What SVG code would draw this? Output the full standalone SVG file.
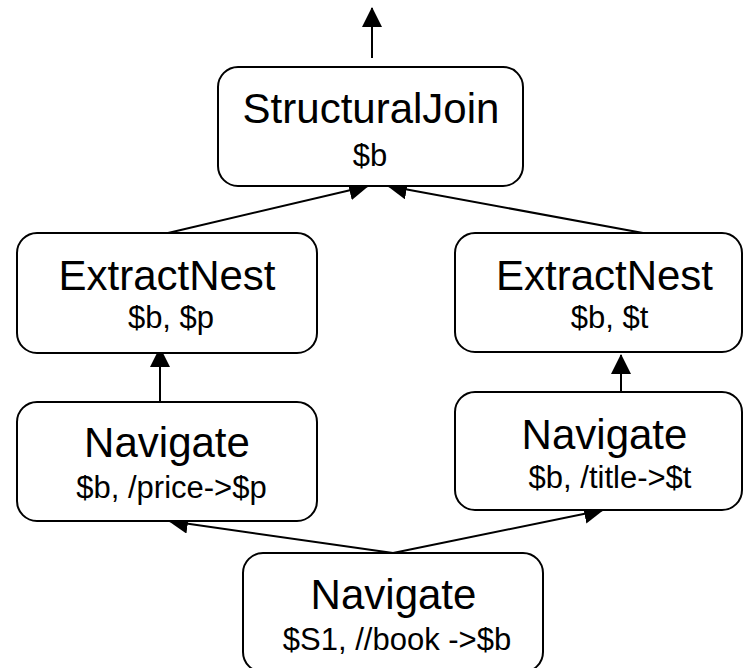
<svg xmlns="http://www.w3.org/2000/svg" width="744" height="668" viewBox="0 0 744 668">
  <style>
    .box { fill: #ffffff; stroke: #000000; stroke-width: 2; }
    .title { font-family: "Liberation Sans", Arial, sans-serif; font-size: 42px; fill: #000000; text-anchor: middle; }
    .sub { font-family: "Liberation Sans", Arial, sans-serif; font-size: 31px; fill: #000000; text-anchor: middle; }
    .edge { fill: none; stroke: #000000; stroke-width: 2; marker-end: url(#arrow); }
  </style>
  <defs>
    <marker id="arrow" viewBox="0 0 20 20" refX="19" refY="10" markerWidth="20" markerHeight="20" markerUnits="userSpaceOnUse" orient="auto">
      <path d="M0,0 L20,10 L0,20 Z" fill="#000000"/>
    </marker>
  </defs>

  <rect width="744" height="668" fill="#ffffff"/>

  <!-- connectors: data flows upward from the bottom Navigate -->
  <g id="connectors">
    <line class="edge" x1="372" y1="58" x2="372" y2="8"/>
    <line class="edge" x1="168" y1="233" x2="368" y2="186"/>
    <line class="edge" x1="643" y1="233" x2="388" y2="186"/>
    <line class="edge" x1="160" y1="402" x2="160" y2="348"/>
    <line class="edge" x1="621" y1="392" x2="621" y2="355"/>
    <line class="edge" x1="393" y1="553" x2="169" y2="521"/>
    <line class="edge" x1="393" y1="553" x2="603" y2="510"/>
  </g>

  <g id="structural-join">
    <rect class="box" x="218" y="67" width="305" height="119" rx="20" ry="20"/>
    <text class="title" x="371" y="123">StructuralJoin</text>
    <text class="sub" x="370" y="166">$b</text>
  </g>

  <g id="extract-nest-price">
    <rect class="box" x="17" y="233" width="300" height="120" rx="20" ry="20"/>
    <text class="title" x="167" y="290">ExtractNest</text>
    <text class="sub" x="171" y="328">$b, $p</text>
  </g>

  <g id="extract-nest-title">
    <rect class="box" x="455" y="233" width="287" height="119" rx="20" ry="20"/>
    <text class="title" x="604.5" y="290">ExtractNest</text>
    <text class="sub" x="609.5" y="328">$b, $t</text>
  </g>

  <g id="navigate-price">
    <rect class="box" x="17" y="402" width="300" height="119" rx="20" ry="20"/>
    <text class="title" x="167" y="457">Navigate</text>
    <text class="sub" x="171.5" y="498">$b, /price-&gt;$p</text>
  </g>

  <g id="navigate-title">
    <rect class="box" x="455" y="392" width="287" height="118" rx="20" ry="20"/>
    <text class="title" x="604.5" y="449">Navigate</text>
    <text class="sub" x="610" y="488">$b, /title-&gt;$t</text>
  </g>

  <g id="navigate-book">
    <rect class="box" x="243" y="553" width="300" height="119" rx="20" ry="20"/>
    <text class="title" x="393.5" y="609">Navigate</text>
    <text class="sub" x="397" y="650">$S1, //book -&gt;$b</text>
  </g>
</svg>
